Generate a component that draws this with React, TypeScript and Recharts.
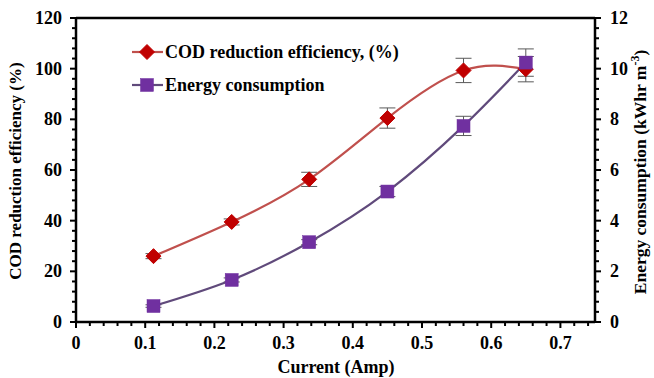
import React from "react"
import {
  ComposedChart,
  Line,
  Scatter,
  XAxis,
  YAxis,
  ErrorBar,
  ReferenceLine,
} from "recharts"

// values
const current = [0.112, 0.225, 0.337, 0.45, 0.56, 0.65]
const codEfficiency = [26.0, 39.5, 56.3, 80.5, 99.3, 99.8]
const codError = [1.0, 1.2, 2.8, 4.0, 4.8, 5.0]
const energy = [0.63, 1.66, 3.15, 5.15, 7.74, 10.24]
const energyError = [0.05, 0.08, 0.1, 0.2, 0.38, 0.54]

const xMajorTicks = [0, 0.1, 0.2, 0.3, 0.4, 0.5, 0.6, 0.7]
const leftMajorTicks = [0, 20, 40, 60, 80, 100, 120]
const rightMajorTicks = [0, 2, 4, 6, 8, 10, 12]

const data = current.map((c, i) => ({
  current: c,
  cod: codEfficiency[i],
  codErr: codError[i],
  energy: energy[i],
  energyErr: energyError[i],
}))

// minor ticks: 4 between each pair of major ticks
const withMinor = (major: number[], extraEnd?: number) => {
  const out: number[] = []
  for (let i = 0; i < major.length - 1; i++) {
    const step = (major[i + 1] - major[i]) / 5
    for (let k = 0; k < 5; k++) out.push(+(major[i] + step * k).toFixed(4))
  }
  const last = major[major.length - 1]
  out.push(last)
  if (extraEnd !== undefined) {
    const step = (major[1] - major[0]) / 5
    for (let v = last + step; v <= extraEnd + 1e-9; v += step) out.push(+v.toFixed(4))
  }
  return out
}

const isMajor = (v: number, list: number[]) => list.some((m) => Math.abs(m - v) < 1e-6)

const FONT = "'Liberation Serif', 'Times New Roman', serif"
const RED_LINE = "#C0504D"
const RED_MARK = "#C00000"
const PURPLE_LINE = "#604A7B"
const PURPLE_MARK = "#7030A0"
const ERR = "#595959"

const XTick = (props: any) => {
  const { x, y, payload } = props
  const major = isMajor(payload.value, xMajorTicks)
  return (
    <g>
      <line x1={x} y1={y} x2={x} y2={y + (major ? 6 : 4)} stroke="#000" strokeWidth={2} />
      {major && (
        <text x={x} y={y + 27} textAnchor="middle" fontFamily={FONT} fontWeight="bold" fontSize={18} fill="#000">
          {payload.value === 0 ? "0" : payload.value.toFixed(1)}
        </text>
      )}
    </g>
  )
}

const LeftTick = (props: any) => {
  const { x, y, payload } = props
  const major = isMajor(payload.value, leftMajorTicks)
  return (
    <g>
      <line x1={x} y1={y} x2={x - (major ? 6 : 4)} y2={y} stroke="#000" strokeWidth={2} />
      {major && (
        <text x={x - 14} y={y + 6} textAnchor="end" fontFamily={FONT} fontWeight="bold" fontSize={18} fill="#000">
          {payload.value}
        </text>
      )}
    </g>
  )
}

const RightTick = (props: any) => {
  const { x, y, payload } = props
  const major = isMajor(payload.value, rightMajorTicks)
  return (
    <g>
      <line x1={x} y1={y} x2={x + (major ? 6 : 4)} y2={y} stroke="#000" strokeWidth={2} />
      {major && (
        <text x={x + 15} y={y + 6} textAnchor="start" fontFamily={FONT} fontWeight="bold" fontSize={18} fill="#000">
          {payload.value}
        </text>
      )}
    </g>
  )
}

const Diamond = ({ cx, cy, size = 7.5 }: { cx: number; cy: number; size?: number }) => (
  <path
    d={`M${cx},${cy - size} L${cx + size},${cy} L${cx},${cy + size} L${cx - size},${cy} Z`}
    fill={RED_MARK}
    stroke={RED_MARK}
  />
)

const Square = ({ cx, cy, size = 6.5 }: { cx: number; cy: number; size?: number }) => (
  <rect x={cx - size} y={cy - size} width={size * 2} height={size * 2} fill={PURPLE_MARK} stroke={PURPLE_MARK} strokeWidth={0.5} />
)

const legendText: React.CSSProperties = {
  fontFamily: FONT,
  fontWeight: "bold",
  fontSize: 18,
  color: "#000",
  lineHeight: "20px",
  whiteSpace: "nowrap",
  marginLeft: 1,
}

export default function App() {
  return (
    <div style={{ position: "absolute", left: 0, top: 0, width: 654, height: 378, background: "#fff" }}>
      <ComposedChart width={654} height={378} data={data} margin={{ top: 18, right: 0, bottom: 0, left: 0 }}>
        <XAxis
          dataKey="current"
          type="number"
          domain={[0, 0.75]}
          ticks={withMinor(xMajorTicks, 0.74)}
          interval={0}
          height={56}
          tickSize={0}
          tickMargin={0}
          tickLine={false}
          tick={<XTick />}
          axisLine={{ stroke: "#000", strokeWidth: 2.5 }}
          allowDataOverflow
        />
        <YAxis
          yAxisId="left"
          domain={[0, 120]}
          ticks={withMinor(leftMajorTicks)}
          interval={0}
          width={76}
          tickSize={0}
          tickMargin={0}
          tickLine={false}
          tick={<LeftTick />}
          axisLine={{ stroke: "#000", strokeWidth: 2.5 }}
        />
        <YAxis
          yAxisId="right"
          orientation="right"
          domain={[0, 12]}
          ticks={withMinor(rightMajorTicks)}
          interval={0}
          width={59}
          tickSize={0}
          tickMargin={0}
          tickLine={false}
          tick={<RightTick />}
          axisLine={{ stroke: "#000", strokeWidth: 2.5 }}
        />
        <ReferenceLine yAxisId="left" y={120} stroke="#000" strokeWidth={2.5} />

        <Line
          yAxisId="left"
          type="natural"
          dataKey="cod"
          stroke={RED_LINE}
          strokeWidth={2.2}
          isAnimationActive={false}
          dot={false}
          activeDot={false}
        >
          <ErrorBar dataKey="codErr" direction="y" width={8} stroke={ERR} strokeWidth={1} isAnimationActive={false} />
        </Line>
        <Line
          yAxisId="right"
          type="natural"
          dataKey="energy"
          stroke={PURPLE_LINE}
          strokeWidth={2.2}
          isAnimationActive={false}
          dot={false}
          activeDot={false}
        >
          <ErrorBar dataKey="energyErr" direction="y" width={8} stroke={ERR} strokeWidth={1} isAnimationActive={false} />
        </Line>

        {/* markers on top of the error bars */}
        <Scatter
          yAxisId="left"
          dataKey="cod"
          isAnimationActive={false}
          shape={(p: any) => <Diamond cx={p.cx} cy={p.cy} />}
        />
        <Scatter
          yAxisId="right"
          dataKey="energy"
          isAnimationActive={false}
          shape={(p: any) => <Square cx={p.cx} cy={p.cy} />}
        />
      </ComposedChart>

      <svg width={654} height={378} style={{ position: "absolute", left: 0, top: 0, pointerEvents: "none" }}>
        <text
          x={21}
          y={171}
          transform="rotate(-90, 21, 171)"
          textAnchor="middle"
          fontFamily={FONT}
          fontWeight="bold"
          fontSize={17}
          fill="#000"
        >
          COD reduction efficiency (%)
        </text>
        <text
          x={646}
          y={172}
          transform="rotate(-90, 646, 172)"
          textAnchor="middle"
          fontFamily={FONT}
          fontWeight="bold"
          fontSize={17.5}
          fill="#000"
        >
          Energy consumption (kWhr m
          <tspan dy={-7} fontSize={12}>-3</tspan>
          <tspan dy={7}>)</tspan>
        </text>
        <text x={336} y={373} textAnchor="middle" fontFamily={FONT} fontWeight="bold" fontSize={18} fill="#000">
          Current (Amp)
        </text>
      </svg>

      <div style={{ position: "absolute", left: 131, top: 42, display: "flex", alignItems: "center" }}>
        <svg width={33} height={20}>
          <line x1={1} y1={10} x2={32} y2={10} stroke={RED_LINE} strokeWidth={2.2} />
          <Diamond cx={16} cy={10} />
        </svg>
        <span style={legendText}>COD reduction efficiency, (%)</span>
      </div>
      <div style={{ position: "absolute", left: 131, top: 75, display: "flex", alignItems: "center" }}>
        <svg width={33} height={20}>
          <line x1={1} y1={10} x2={32} y2={10} stroke={PURPLE_LINE} strokeWidth={2.2} />
          <Square cx={16} cy={10} />
        </svg>
        <span style={legendText}>Energy consumption</span>
      </div>
    </div>
  )
}
